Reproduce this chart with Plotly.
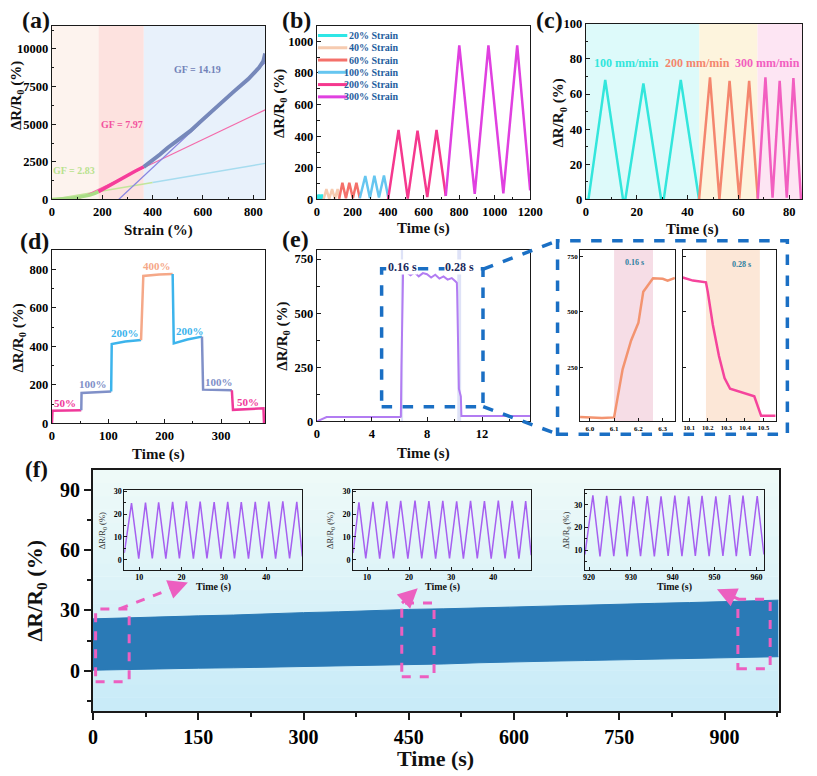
import plotly.graph_objects as go

W, H = 817, 776
FONT = "Liberation Serif"

# ---------------- data ----------------
# (a) strain response
a_green_x = [0, 25, 50, 75, 100, 125, 150, 170, 185]
a_green_y = [0, 15, 40, 75, 130, 200, 290, 400, 520]
a_pink_x = [185, 210, 240, 270, 300, 330, 365]
a_pink_y = [520, 760, 1040, 1310, 1600, 1870, 2170]
a_blue_x = [365, 400, 430, 460, 500, 550, 590, 650, 720, 780, 823, 840, 847]
a_blue_y = [2170, 2600, 3000, 3435, 3950, 4550, 5170, 6100, 7130, 8000, 8760, 9200, 9700]
fit1_x, fit1_y = [0, 400], [0, 1132]
fit1b_x, fit1b_y = [400, 847], [1132, 2397]
fit2_x, fit2_y = [100, 847], [0, 5954]
fit3_x, fit3_y = [265, 847], [0, 9090]
a_regions = [(0, 185, "#fdf3ee"), (185, 365, "#fde2df"), (365, 847, "#e8f1fb")]

# (b) cyclic strain
b_series = [
    ("20% Strain", "#2ee6e6", [0, 4, 8, 12, 16, 20, 24, 28, 32, 37], [0, 30, 2, 31, 2, 30, 2, 31, 2, 0]),
    ("40% Strain", "#f6cbb0", [37, 53, 69, 85, 101, 116, 125], [0, 65, 3, 66, 3, 66, 5]),
    ("60% Strain", "#f4706a", [125, 143, 163, 182, 202, 222, 241], [5, 105, 8, 106, 8, 106, 8]),
    ("100% Strain", "#66c6f0", [241, 272, 298, 323, 349, 377, 402], [8, 148, 10, 150, 12, 152, 10]),
    ("200% Strain", "#f5388e", [400, 459, 511, 566, 621, 673, 725], [0, 440, 5, 435, 15, 440, 22]),
    ("300% Strain", "#e040e0", [725, 801, 888, 965, 1049, 1127, 1200], [22, 975, 35, 975, 38, 975, 58]),
]

# (c) stretching speeds
c_series = [
    ("100 mm/min", "#33e6dc", [0, 1, 7.6, 14.6, 15.5, 22.6, 29.6, 30.6, 37.3, 44.5], [0, 0, 68, 0, 0, 66, 0, 0, 68, 0], 16.0),
    ("200 mm/min", "#f4866e", [44.5, 48.8, 52.5, 56.5, 60.3, 64.2, 67.6], [0, 69.5, 0, 67.5, 0.5, 67.5, 0.5], 43.7),
    ("300 mm/min", "#f25fc0", [67.6, 70.6, 73.4, 76.2, 79.0, 81.6, 84.6, 85], [0.5, 69.5, 1, 67.5, 1, 69, 0, 0], 71.5),
]
c_regions = [(0, 44.6, "#ddfafa"), (44.6, 67.5, "#fdf4dd"), (67.5, 85, "#fde5f3")]

# (d) step strain
d_series = [
    ("#f0399a", [0, 1, 52], [0, 65, 68]),
    ("#8090c8", [52, 52.5, 105], [68, 158, 165]),
    ("#3cb4ec", [105, 106, 130, 158], [165, 412, 425, 432]),
    ("#f5a888", [158, 162, 190, 214], [432, 765, 772, 775]),
    ("#3cb4ec", [214, 216, 240, 266], [775, 415, 435, 450]),
    ("#8090c8", [266, 268, 319], [450, 175, 172]),
    ("#f0399a", [319, 321, 375, 376], [172, 70, 78, 0]),
]
d_labels = [("50%", 23.7, 108, "#f0399a"), ("100%", 72.9, 204, "#8090c8"), ("200%", 129.6, 470, "#3cb4ec"),
            ("400%", 186.8, 819, "#f5a888"), ("200%", 245, 479, "#3cb4ec"), ("100%", 296.7, 215, "#8090c8"),
            ("50%", 347.6, 110, "#f0399a")]

# (e) response time
e_t = [0, 0.7, 6.05, 6.1, 6.14, 6.2, 6.26, 6.5, 6.8, 7.1, 7.4, 7.7, 8.0, 8.3, 8.6, 8.9, 9.2, 9.5, 9.8, 10.1,
       10.17, 10.19, 10.22, 10.26, 10.29, 10.32, 10.46, 10.5, 15.5]
e_y = [0, 20, 20, 22, 250, 500, 685, 690, 675, 688, 670, 685, 680, 665, 678, 660, 670, 655, 662, 645,
       640, 600, 450, 300, 200, 150, 115, 25, 25]
ei1_t = [5.96, 6.0, 6.05, 6.1, 6.135, 6.17, 6.2, 6.22, 6.26, 6.3, 6.32, 6.35]
ei1_y = [25, 22, 20, 23, 240, 370, 450, 590, 650, 648, 640, 652]
ei2_t = [10.065, 10.12, 10.19, 10.2, 10.227, 10.26, 10.29, 10.32, 10.45, 10.487, 10.565]
ei2_y = [654, 640, 632, 588, 441, 300, 200, 152, 118, 30, 30]

# (f) long-term cycling envelope
f_t = [0, 50, 100, 150, 200, 250, 300, 350, 400, 450, 500, 550, 600, 650, 700, 750, 800, 850, 900, 950, 977]
f_up = [25.8, 26.4, 26.8, 27.3, 27.7, 28.4, 28.9, 29.3, 30.0, 30.5, 30.8, 31.3, 31.7, 32.2, 32.6, 33.0, 33.5, 33.9, 34.3, 34.8, 35.1]
f_lo = [0.3, 0.7, 1.0, 1.3, 1.5, 1.8, 2.1, 2.4, 2.7, 2.9, 3.4, 4.0, 4.5, 4.8, 5.1, 5.4, 5.6, 5.9, 6.2, 6.6, 7.0]
fi1_t = [6.5, 8.2, 9.9, 11.5, 13.1, 14.6, 16.3, 17.9, 19.5, 21.15, 22.8, 24.4, 26.0, 27.7, 29.3, 30.9, 32.5,
         34.1, 35.8, 37.4, 39.0, 40.6, 42.2, 43.9, 45.5, 47.2, 48.5]
fi1_y = [3, 24.8, 0.5, 25.0, 0.6, 25.2, 0.5, 25.4, 0.6, 25.6, 0.5, 25.5, 0.6, 25.3, 0.5, 25.4, 0.6,
         25.3, 0.5, 25.4, 0.6, 25.5, 0.5, 25.6, 0.6, 25.4, 1.5]
fi2_t = [6.7, 8.07, 9.7, 11.4, 13.0, 14.7, 16.3, 18.0, 19.7, 21.4, 23.0, 24.7, 26.3, 28.0, 29.6, 31.3, 32.9,
         34.6, 36.2, 37.9, 39.5, 41.2, 42.8, 44.5, 46.1, 47.7, 49.0]
fi2_y = [3, 25.2, 0.6, 25.4, 0.5, 25.6, 0.6, 25.8, 0.5, 25.9, 0.6, 25.7, 0.5, 25.8, 0.6, 25.6, 0.5,
         25.8, 0.6, 25.7, 0.5, 25.9, 0.6, 25.8, 0.5, 25.7, 2]
fi3_t = [919.0, 920.9, 922.6, 924.2, 925.9, 927.5, 929.1, 930.6, 932.3, 933.9, 935.6, 937.2, 938.9, 940.5,
         942.2, 943.8, 945.4, 947.0, 948.7, 950.3, 952.0, 953.6, 955.2, 956.8, 958.5, 960.2, 961.8]
fi3_y = [8, 34.2, 7.2, 34.0, 7.3, 34.0, 7.2, 33.8, 7.3, 33.9, 7.2, 33.8, 7.4, 34.1,
         7.3, 33.7, 7.4, 34.0, 7.3, 33.8, 7.4, 34.3, 7.3, 34.1, 7.4, 33.9, 8]

# ---------------- helpers ----------------
fig = go.Figure()
shapes = []
annos = []


def nm(i):
    return "" if i == 1 else str(i)


def line(x, y, color, width, i):
    fig.add_trace(go.Scatter(x=x, y=y, mode="lines", line=dict(color=color, width=width),
                             xaxis="x" + nm(i), yaxis="y" + nm(i), showlegend=False, hoverinfo="skip"))


def txt(s, x, y, size, color="#111", bold=True, xref="paper", yref="paper", angle=0,
        xanchor="center", yanchor="middle", bg=None):
    if xref == "paper":
        x = x / W
    if yref == "paper":
        y = 1 - y / H
    a = dict(text=s, x=x, y=y, xref=xref, yref=yref, showarrow=False, textangle=angle,
             xanchor=xanchor, yanchor=yanchor,
             font=dict(family=FONT, size=size, color=color, weight="bold" if bold else "normal"))
    if bg:
        a["bgcolor"] = bg
        a["borderpad"] = 0
    annos.append(a)


def pline(x0, y0, x1, y1, color, width, dash="solid"):
    shapes.append(dict(type="line", xref="paper", yref="paper", x0=x0 / W, y0=1 - y0 / H, x1=x1 / W, y1=1 - y1 / H,
                       line=dict(color=color, width=width, dash=dash)))


def axes(i, xd, yd, xr, yr, xdt, ydt, fs, xmn=None, ymn=None, lw=1.3, tl=4, x0=0, y0=0,
         xfmt=None, yshow=True, bold=True, tdir="inside"):
    tf = dict(family=FONT, size=fs, color="#000", weight="bold" if bold else "normal")
    common = dict(showline=True, mirror=True, linecolor="#1a1a1a", linewidth=lw, ticks=tdir,
                  ticklen=tl, tickwidth=lw, tickcolor="#1a1a1a", showgrid=False, zeroline=False,
                  tickfont=tf, tickformat="d", exponentformat="none")
    xa = dict(common, domain=[xd[0] / W, xd[1] / W], range=xr, dtick=xdt, tick0=x0, anchor="y" + nm(i))
    ya = dict(common, domain=[1 - yd[1] / H, 1 - yd[0] / H], range=yr, dtick=ydt, tick0=y0,
              anchor="x" + nm(i), showticklabels=yshow)
    if xmn:
        xa["minor"] = dict(dtick=xmn, ticks=tdir, ticklen=tl * 0.6, tickwidth=lw, tickcolor="#1a1a1a")
    if ymn:
        ya["minor"] = dict(dtick=ymn, ticks=tdir, ticklen=tl * 0.6, tickwidth=lw, tickcolor="#1a1a1a")
    if xfmt:
        xa["tickformat"] = xfmt
    return {"xaxis" + nm(i): xa, "yaxis" + nm(i): ya}


layout_axes = {}
layout_axes.update(axes(1, (48, 266), (19, 196), [0, 847], [0, 11546], 200, 2500, 12.5, 100, 1250))
layout_axes.update(axes(2, (319, 537), (19, 196), [0, 1200], [0, 1099], 200, 200, 12.5, 100, 100))
layout_axes.update(axes(3, (594, 815), (17, 196), [0, 85], [0, 100], 20, 20, 12.5, 10, 10))
layout_axes.update(axes(4, (48, 266), (247, 424), [0, 378], [0, 902], 100, 200, 12.5, 50, 100))
layout_axes.update(axes(5, (319, 537), (247, 422), [0, 15.5], [0, 794], 4, 250, 12.5, 2, 125))
layout_axes.update(axes(6, (588, 685), (247, 422), [5.96, 6.35], [5, 780], 0.1, 250, 7, lw=1, tl=3,
                        x0=6.0, xfmt=".1f"))
layout_axes.update(axes(7, (693, 788), (247, 422), [10.065, 10.565], [5, 780], 0.1, 250, 6.5, lw=1, tl=3,
                        x0=10.1, xfmt=".1f", yshow=False))
layout_axes.update(axes(8, (90, 791), (471, 717), [0, 977], [-20, 100], 150, 30, 20, 75, 15, lw=2, tl=7,
                        tdir="outside"))
layout_axes.update(axes(9, (122, 304), (492, 573), [6.5, 48.5], [-4.3, 30.5], 10, 10, 8, 5, 5, lw=1, tl=3))
layout_axes.update(axes(10, (356, 538), (492, 573), [6.7, 49], [-4.3, 30.5], 10, 10, 8, 5, 5, lw=1, tl=3))
layout_axes.update(axes(11, (593, 776), (492, 573), [919, 961.8], [1.3, 36.5], 10, 10, 8, 5, 5, lw=1, tl=3,
                        x0=920))

# ---------------- (a) ----------------
for x0, x1, c in a_regions:
    shapes.append(dict(type="rect", xref="x", yref="y domain", x0=x0, x1=x1, y0=0, y1=1,
                       fillcolor=c, line=dict(width=0), layer="below"))
line(fit1_x, fit1_y, "#c3e59a", 1.5, 1)
line(fit1b_x, fit1b_y, "#a6dcef", 1.5, 1)
line(fit2_x, fit2_y, "#f46aaa", 1.2, 1)
line(fit3_x, fit3_y, "#8a86e0", 1.2, 1)
line(a_green_x, a_green_y, "#a9dc86", 3.5, 1)
line(a_pink_x, a_pink_y, "#f63c9a", 3.5, 1)
line(a_blue_x, a_blue_y, "#7688ba", 4, 1)
txt("GF = 14.19", 578, 8656, 10, "#7282b8", xref="x", yref="y")
txt("GF = 7.97", 280, 5003, 10, "#f2529e", xref="x", yref="y")
txt("GF = 2.83", 88, 1911, 10, "#b9e28e", xref="x", yref="y")

# ---------------- (b) ----------------
for k, (name, col, t, y) in enumerate(b_series):
    line(t, y, col, 2.5, 2)
    yy = 29 + 12.5 * k
    pline(320, yy, 350, yy, col, 3)
    txt(name, 405, yy, 10, "#1f5e9e", xanchor="right")

# ---------------- (c) ----------------
for x0, x1, c in c_regions:
    shapes.append(dict(type="rect", xref="x3", yref="y3 domain", x0=x0, x1=x1, y0=0, y1=1,
                       fillcolor=c, line=dict(width=0), layer="below"))
for name, col, t, y, lx in c_series:
    line(t, y, col, 2.5, 3)
    txt(name, lx, 77.8, 12, col, xref="x3", yref="y3")

# ---------------- (d) ----------------
for col, t, y in d_series:
    line(t, y, col, 2.5, 4)
for s, x, y, col in d_labels:
    txt(s, x, y, 11, col, xref="x4", yref="y4")

# ---------------- (e) ----------------
for x0, x1 in [(6.1, 6.26), (10.2, 10.48)]:
    shapes.append(dict(type="rect", xref="x5", yref="y5 domain", x0=x0, x1=x1, y0=0, y1=1,
                       fillcolor="rgba(200,206,242,0.6)", line=dict(width=0), layer="below"))
line(e_t, e_y, "#b27cf2", 2, 5)
shapes.append(dict(type="rect", xref="x5", yref="y5", x0=4.7, x1=12.07, y0=68, y1=705,
                   line=dict(color="#1a6fc4", width=3.5, dash="dash")))
txt("0.16 s", 6.19, 712, 12, "#1b2a5e", xref="x5", yref="y5", bg="white")
txt("0.28 s", 10.38, 712, 12, "#1b2a5e", xref="x5", yref="y5", bg="white")
pline(489, 267, 565, 238, "#1a6fc4", 3.5, "dash")
pline(489, 407, 565, 435, "#1a6fc4", 3.5, "dash")
shapes.append(dict(type="rect", xref="paper", yref="paper", x0=565 / W, x1=800 / W, y0=1 - 435 / H, y1=1 - 238 / H,
                   line=dict(color="#1a6fc4", width=3.5, dash="dash")))
shapes.append(dict(type="rect", xref="x6", yref="y6 domain", x0=6.1, x1=6.26, y0=0, y1=1,
                   fillcolor="#f6dde6", line=dict(width=0), layer="below"))
shapes.append(dict(type="rect", xref="x7", yref="y7 domain", x0=10.19, x1=10.48, y0=0, y1=1,
                   fillcolor="#fce7d7", line=dict(width=0), layer="below"))
line(ei1_t, ei1_y, "#f39470", 2.5, 6)
line(ei2_t, ei2_y, "#f5449c", 2.5, 7)
txt("0.16 s", 6.185, 720, 8, "#2e7fa0", xref="x6", yref="y6")
txt("0.28 s", 10.38, 712, 8, "#2e7fa0", xref="x7", yref="y7")

# ---------------- (f) ----------------
n = 18
top, bot = (240, 251, 249), (200, 235, 248)
for k in range(n):
    f0, f1 = k / n, (k + 1) / n
    r = [int(bot[j] + (top[j] - bot[j]) * (f0 + f1) / 2) for j in range(3)]
    shapes.append(dict(type="rect", xref="x8 domain", yref="y8 domain", x0=0, x1=1, y0=f0, y1=f1 + 0.002,
                       fillcolor="rgb(%d,%d,%d)" % tuple(r), line=dict(width=0), layer="below"))
fig.add_trace(go.Scatter(x=f_t, y=f_lo, mode="lines", line=dict(color="#2a7ab6", width=1),
                         xaxis="x8", yaxis="y8", showlegend=False, hoverinfo="skip"))
fig.add_trace(go.Scatter(x=f_t, y=f_up, mode="lines", line=dict(color="#2a7ab6", width=1), fill="tonexty",
                         fillcolor="#2a7ab6", xaxis="x8", yaxis="y8", showlegend=False, hoverinfo="skip"))
PINK = "#ec5fc0"
for x0, x1, y0, y1 in [(3.7, 51.5, -5.4, 30.7), (440, 486, -2.9, 33.7), (919, 965, 1, 35.6)]:
    shapes.append(dict(type="rect", xref="x8", yref="y8", x0=x0, x1=x1, y0=y0, y1=y1,
                       line=dict(color=PINK, width=3, dash="dash")))
for (sx, sy), (tx, ty) in [((117, 613), (187, 586)), ((406, 607), (422, 592)), ((750, 603), (728, 593))]:
    dxp, dyp = sx - tx, sy - ty
    L = (dxp ** 2 + dyp ** 2) ** 0.5
    ex, ey = tx + dxp / L * 6, ty + dyp / L * 6
    pline(sx, sy, ex, ey, PINK, 3, "dash")
    annos.append(dict(x=tx / W, y=1 - ty / H, xref="paper", yref="paper", ax=dxp / L * 9, ay=dyp / L * 9,
                      showarrow=True, arrowhead=2, arrowsize=1.3, arrowwidth=3, arrowcolor=PINK, text=""))
line(fi1_t, fi1_y, "#a660f0", 1.5, 9)
line(fi2_t, fi2_y, "#a660f0", 1.5, 10)
line(fi3_t, fi3_y, "#a660f0", 1.5, 11)
for cx, tx in [(213, 100), (447, 333), (685, 574)]:
    txt("Time (s)", cx, 591, 10)
    txt("ΔR/R<sub>0</sub> (%)", tx, 533, 8.5, "#333", bold=False, angle=-90)

# ---------------- titles & panel labels ----------------
YT = "ΔR/R<sub>0</sub> (%)"
for s, x, y in [("(a)", 32, 13), ("(b)", 298, 13), ("(c)", 557, 13), ("(d)", 30, 238), ("(e)", 297, 236)]:
    txt(s, x, y, 24)
txt("(f)", 32, 471, 23)
for s, x, y in [("Strain (%)", 157, 228), ("Time (s)", 428, 226), ("Time (s)", 703, 227),
                ("Time (s)", 157, 456), ("Time (s)", 428, 455)]:
    txt(s, x, y, 15)
txt("Time (s)", 440, 765, 22)
for x, y in [(13, 90), (281, 98), (567, 108), (14, 337), (284, 335)]:
    txt(YT, x, y, 15, angle=-90)
txt(YT, 32, 594, 22, angle=-90)

fig.update_layout(width=W, height=H, margin=dict(l=0, r=0, t=0, b=0), paper_bgcolor="white",
                  plot_bgcolor="rgba(0,0,0,0)", showlegend=False, shapes=shapes, annotations=annos,
                  **layout_axes)
fig.write_html("out.html")
